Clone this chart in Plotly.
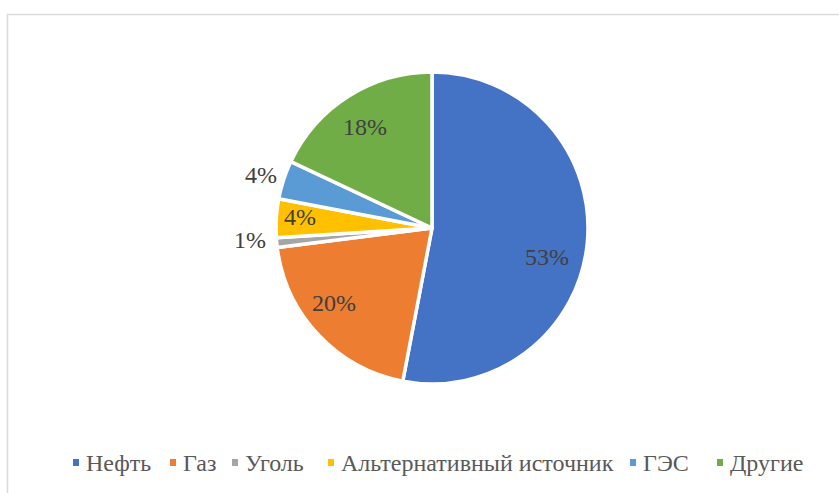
import math
import plotly.graph_objects as go

# Structure of energy sources, percent
labels = ["Нефть", "Газ", "Уголь", "Альтернативный источник", "ГЭС", "Другие"]
values = [53, 20, 1, 4, 4, 18]
colors = ["#4472C4", "#ED7D31", "#A5A5A5", "#FFC000", "#5B9BD5", "#70AD47"]

# label placement: radius as a fraction of the pie radius, and an angular nudge (deg)
label_radius = [0.76, 0.78, 1.17, 0.85, 1.15, 0.79]
label_nudge = [7.7, 6.6, 2.3, 2.0, -0.2, -0.6]

SERIF = "Liberation Serif, Times New Roman, serif"

W, H = 839, 493
CX, CY, R = 432, 228, 156          # pie centre and radius, px


def px(x):
    return x / W


def py(y):
    return 1 - y / H


fig = go.Figure(
    go.Pie(
        labels=labels,
        values=values,
        marker=dict(colors=colors, line=dict(color="white", width=3.5)),
        sort=False,
        direction="clockwise",
        rotation=0,
        textinfo="none",
        hoverinfo="label+percent",
        showlegend=False,
        domain=dict(x=[px(CX - R), px(CX + R)], y=[py(CY + R), py(CY - R)]),
    )
)

annotations = []
total = sum(values)
cum = 0
for v, rf, nud in zip(values, label_radius, label_nudge):
    mid = (cum + v / 2) / total * 360 + nud
    cum += v
    a = math.radians(mid)
    x = CX + rf * R * math.sin(a)
    y = CY - rf * R * math.cos(a) + 2
    annotations.append(dict(
        x=px(x), y=py(y), xref="paper", yref="paper",
        text=f"{v}%", showarrow=False, xanchor="center", yanchor="middle",
        font=dict(family=SERIF, size=24, color="#404040"),
    ))

# legend row: left edge of each entry's text, px
legend_x = [84, 181, 243, 339, 641, 728]
LEG_Y = 463
shapes = []
for lab, col, lx in zip(labels, colors, legend_x):
    shapes.append(dict(
        type="rect", xref="paper", yref="paper",
        x0=px(lx - 11), x1=px(lx - 5), y0=py(LEG_Y + 3), y1=py(LEG_Y - 4),
        fillcolor=col, line=dict(width=0),
    ))
    annotations.append(dict(
        x=px(lx), y=py(LEG_Y), xref="paper", yref="paper",
        text=lab, showarrow=False, xanchor="left", yanchor="middle",
        font=dict(family=SERIF, size=24, color="#595959"),
    ))

# chart-area frame
shapes.append(dict(
    type="rect", xref="paper", yref="paper",
    x0=px(7.5), x1=px(W + 5), y0=py(H + 5), y1=py(14.5),
    line=dict(color="#D9D9D9", width=1.5), fillcolor="rgba(0,0,0,0)",
))

fig.update_layout(
    width=W, height=H,
    margin=dict(l=0, r=0, t=0, b=0),
    paper_bgcolor="white",
    plot_bgcolor="white",
    annotations=annotations,
    shapes=shapes,
)

fig.write_html("out.html")
